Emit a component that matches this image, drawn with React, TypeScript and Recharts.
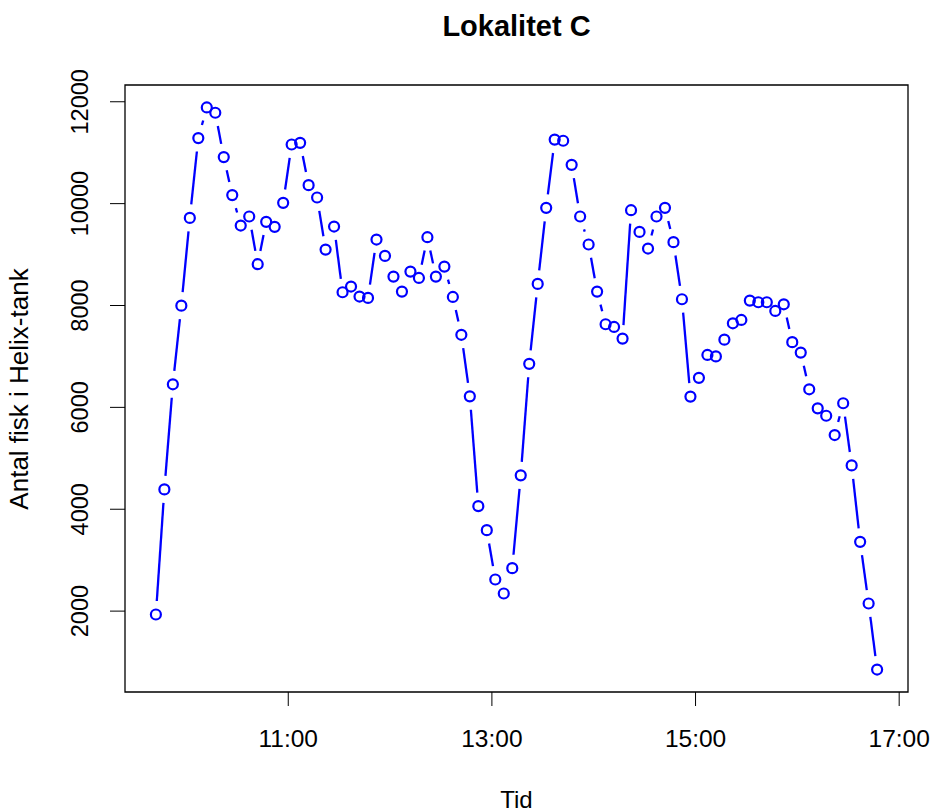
import React from 'react';
import { LineChart, Line, XAxis, YAxis, ReferenceArea } from 'recharts';

const times: string[] = [
  '09:42', '09:47', '09:52', '09:57',
  '10:02', '10:07', '10:12', '10:17', '10:22', '10:27', '10:32', '10:37', '10:42', '10:47', '10:52', '10:57',
  '11:02', '11:07', '11:12', '11:17', '11:22', '11:27', '11:32', '11:37', '11:42', '11:47', '11:52', '11:57',
  '12:02', '12:07', '12:12', '12:17', '12:22', '12:27', '12:32', '12:37', '12:42', '12:47', '12:52', '12:57',
  '13:02', '13:07', '13:12', '13:17', '13:22', '13:27', '13:32', '13:37', '13:42', '13:47', '13:52', '13:57',
  '14:02', '14:07', '14:12', '14:17', '14:22', '14:27', '14:32', '14:37', '14:42', '14:47', '14:52', '14:57',
  '15:02', '15:07', '15:12', '15:17', '15:22', '15:27', '15:32', '15:37', '15:42', '15:47', '15:52', '15:57',
  '16:02', '16:07', '16:12', '16:17', '16:22', '16:27', '16:32', '16:37', '16:42', '16:47',
];

const counts: number[] = [
  1934, 4390, 6453, 7997, 9720, 11287, 11888, 11784, 10913, 10167,
  9570, 9747, 8811, 9642, 9544, 10015, 11161, 11194, 10363, 10120,
  9098, 9550, 8260, 8372, 8176, 8149, 9295, 8974, 8568, 8273,
  8666, 8541, 9341, 8568, 8764, 8168, 7425, 6217, 4061, 3590,
  2621, 2346, 2843, 4665, 6855, 8424, 9917, 11257, 11234, 10762,
  9747, 9198, 8273, 7632, 7579, 7350, 9871, 9445, 9118, 9747,
  9917, 9243, 8123, 6211, 6580, 7029, 7000, 7330, 7651, 7716,
  8096, 8064, 8064, 7893, 8024, 7280, 7075, 6355, 5981, 5836,
  5457, 6081, 4861, 3360, 2149, 853,
];

const xTickLabels: string[] = ['11:00', '13:00', '15:00', '17:00'];
const yTicks: number[] = [2000, 4000, 6000, 8000, 10000, 12000];

const title = 'Lokalitet C';
const xLabel = 'Tid';
const yLabel = 'Antal fisk i Helix-tank';

const toMin = (s: string) => {
  const [h, m] = s.split(':').map(Number);
  return h * 60 + m;
};

const data = times.map((t, i) => ({ t: toMin(t), v: counts[i] }));
const xTickValues = xTickLabels.map(toMin);

const X_DOMAIN: [number, number] = [563.8, 1025.2];
const Y_DOMAIN: [number, number] = [412, 12329];

const BLUE = '#0000ff';
const FONT = '"Liberation Sans", Arial, Helvetica, sans-serif';
const GAP = 13.5;

function BDot(props: any) {
  const { cx, cy, index, points } = props;
  if (cx == null || cy == null) return <g />;
  let seg: React.ReactNode = null;
  const next = points && points[index + 1];
  if (next && next.x != null && next.y != null) {
    const dx = next.x - cx;
    const dy = next.y - cy;
    const d = Math.hypot(dx, dy);
    if (d > 2 * GAP) {
      const ux = dx / d;
      const uy = dy / d;
      seg = (
        <line
          x1={cx + ux * GAP}
          y1={cy + uy * GAP}
          x2={next.x - ux * GAP}
          y2={next.y - uy * GAP}
          stroke={BLUE}
          strokeWidth={2.3}
        />
      );
    }
  }
  return (
    <g key={`bd-${index}`}>
      {seg}
      <circle cx={cx} cy={cy} r={5} fill="none" stroke={BLUE} strokeWidth={2.2} />
    </g>
  );
}

function XTick(props: any) {
  const { x, y, payload } = props;
  const idx = xTickValues.indexOf(payload.value);
  const label = idx >= 0 ? xTickLabels[idx] : '';
  return (
    <text x={x} y={y + 41} textAnchor="middle" fontSize={24.5} fontFamily={FONT} fill="#000">
      {label}
    </text>
  );
}

function YTick(props: any) {
  const { x, y, payload } = props;
  const bx = x - 22;
  return (
    <text
      x={bx}
      y={y}
      transform={`rotate(-90 ${bx} ${y})`}
      textAnchor="middle"
      fontSize={23.5}
      fontFamily={FONT}
      fill="#000"
    >
      {payload.value}
    </text>
  );
}

export default function App() {
  return (
    <div style={{ position: 'absolute', left: 0, top: 0, width: 935, height: 812, background: '#fff' }}>
      <LineChart
        width={935}
        height={812}
        data={data}
        margin={{ top: 85, right: 27, bottom: 0, left: 0 }}
      >
        <XAxis
          dataKey="t"
          type="number"
          domain={X_DOMAIN}
          ticks={xTickValues}
          allowDataOverflow
          axisLine={false}
          tickLine={{ stroke: '#000', strokeWidth: 1 }}
          tickSize={14}
          tickMargin={0}
          tick={<XTick />}
          height={120}
          interval={0}
        />
        <YAxis
          type="number"
          domain={Y_DOMAIN}
          ticks={yTicks}
          allowDataOverflow
          axisLine={false}
          tickLine={{ stroke: '#000', strokeWidth: 1 }}
          tickSize={15}
          tickMargin={0}
          tick={<YTick />}
          width={125}
          interval={0}
        />
        <ReferenceArea
          x1={X_DOMAIN[0]}
          x2={X_DOMAIN[1]}
          y1={Y_DOMAIN[0]}
          y2={Y_DOMAIN[1]}
          fill="#fff"
          fillOpacity={0}
          stroke="#000"
          strokeWidth={1.3}
          ifOverflow="visible"
        />
        <Line
          dataKey="v"
          stroke="none"
          dot={BDot}
          activeDot={false}
          isAnimationActive={false}
          legendType="none"
        />
      </LineChart>
      <svg
        width={935}
        height={812}
        style={{ position: 'absolute', left: 0, top: 0, pointerEvents: 'none' }}
      >
        <text x={516.5} y={36} textAnchor="middle" fontSize={29} fontWeight="bold" fontFamily={FONT} fill="#000">
          {title}
        </text>
        <text x={516.5} y={808} textAnchor="middle" fontSize={24} fontFamily={FONT} fill="#000">
          {xLabel}
        </text>
        <text
          x={28.3}
          y={389}
          transform="rotate(-90 28.3 389)"
          textAnchor="middle"
          fontSize={26}
          fontFamily={FONT}
          fill="#000"
        >
          {yLabel}
        </text>
      </svg>
    </div>
  );
}
